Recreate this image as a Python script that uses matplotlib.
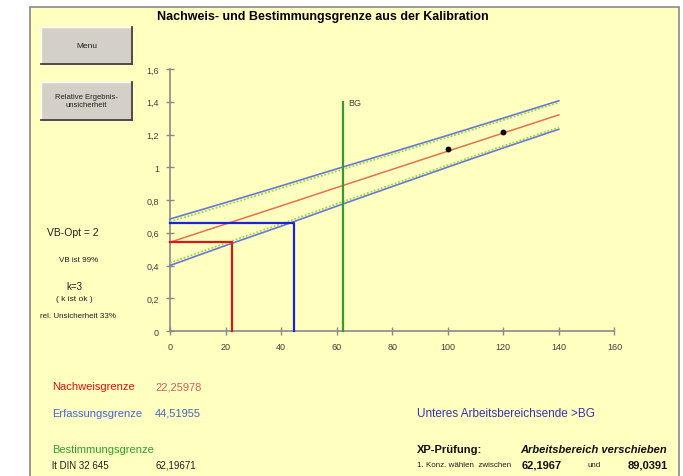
import matplotlib
matplotlib.use("Agg")
import matplotlib.pyplot as plt
from matplotlib.patches import Rectangle
from matplotlib.lines import Line2D
from matplotlib.ticker import FixedLocator

# ---------------- data ----------------
x_grid = [0, 20, 40, 60, 80, 100, 120, 140]
fit_line = [0.542, 0.653, 0.764, 0.876, 0.987, 1.098, 1.209, 1.320]
upper_vb = [0.684, 0.784, 0.886, 0.990, 1.092, 1.195, 1.300, 1.406]
lower_vb = [0.400, 0.522, 0.640, 0.762, 0.882, 1.001, 1.118, 1.232]
upper_in = [0.668, 0.769, 0.872, 0.976, 1.079, 1.183, 1.288, 1.395]
lower_in = [0.416, 0.537, 0.654, 0.776, 0.895, 1.013, 1.130, 1.243]
cal_x = [100, 120]
cal_y = [1.111, 1.213]

nachweisgrenze = 22.25978
erfassungsgrenze = 44.51955
bestimmungsgrenze = 62.19671
ng_level = 0.542
eg_level = 0.660
bg_top = 1.4

x_ticks = [0, 20, 40, 60, 80, 100, 120, 140, 160]
y_ticks = [0, 0.2, 0.4, 0.6, 0.8, 1.0, 1.2, 1.4, 1.6]
y_tick_labels = ["0", "0,2", "0,4", "0,6", "0,8", "1", "1,2", "1,4", "1,6"]

# ---------------- figure ----------------
W, H = 683, 477
fig = plt.figure(figsize=(W / 100, H / 100), dpi=100)
fig.patch.set_facecolor("white")

NARROW = ["Liberation Sans Narrow", "Liberation Sans", "DejaVu Sans"]
SANS = ["Liberation Sans", "DejaVu Sans"]
YELLOW = "#FFFFC0"


def fx(px):
    return px / W


def fy(py):
    return 1 - py / H


def ftext(px, py, s, **kw):
    kw.setdefault("family", NARROW)
    kw.setdefault("va", "center")
    kw.setdefault("ha", "left")
    fig.text(fx(px), fy(py), s, **kw)


# panel (behind everything)
fig.patches.append(Rectangle((fx(30), fy(490)), fx(679) - fx(30), fy(8) - fy(490),
                             transform=fig.transFigure, facecolor=YELLOW,
                             edgecolor="#8a8a8a", linewidth=1.2, zorder=-5))


def button(x0, y0, x1, y1, label, fs):
    fig.patches.append(Rectangle((fx(x0), fy(y1)), fx(x1) - fx(x0), fy(y0) - fy(y1),
                                 transform=fig.transFigure, facecolor="#D4D0C8",
                                 edgecolor="none", zorder=1))
    fig.lines.append(Line2D([fx(x0), fx(x1)], [fy(y0), fy(y0)], transform=fig.transFigure,
                            color="white", lw=1, zorder=2))
    fig.lines.append(Line2D([fx(x0), fx(x0)], [fy(y0), fy(y1)], transform=fig.transFigure,
                            color="white", lw=1, zorder=2))
    fig.lines.append(Line2D([fx(x0), fx(x1)], [fy(y1), fy(y1)], transform=fig.transFigure,
                            color="#404040", lw=1.3, zorder=2))
    fig.lines.append(Line2D([fx(x1), fx(x1)], [fy(y0), fy(y1)], transform=fig.transFigure,
                            color="#404040", lw=1.3, zorder=2))
    fig.text(fx((x0 + x1) / 2), fy((y0 + y1) / 2), label, ha="center", va="center",
             fontsize=fs, family=NARROW, color="#202020", linespacing=1.2, zorder=3)


button(41, 28, 132, 65, "Menu", 6)
button(41, 83, 132, 121, "Relative Ergebnis-\nunsicherheit", 5.5)

# title
fig.text(fx(323), fy(17), "Nachweis- und Bestimmungsgrenze aus der Kalibration",
         ha="center", va="center", fontsize=9, fontweight="bold", family=SANS, color="black")

# ---------------- axes ----------------
ax = fig.add_axes([fx(170), fy(332), fx(614.4) - fx(170), fy(70) - fy(332)])
ax.set_zorder(2)
ax.set_facecolor("none")
ax.set_xlim(0, 160)
ax.set_ylim(0, 1.6)
for side in ("top", "right"):
    ax.spines[side].set_visible(False)
for side in ("left", "bottom"):
    ax.spines[side].set_color("#8a8a8a")
    ax.spines[side].set_linewidth(1.2)
ax.xaxis.set_major_locator(FixedLocator(x_ticks))
ax.yaxis.set_major_locator(FixedLocator(y_ticks))
ax.set_yticklabels(y_tick_labels)
ax.tick_params(direction="inout", length=6, width=1, color="#8a8a8a",
               labelsize=6.5, labelcolor="#404040", pad=5)
for lab in ax.get_xticklabels() + ax.get_yticklabels():
    lab.set_family(NARROW)

# bands
ax.plot(x_grid, upper_vb, color="#6C74D8", lw=1.2, clip_on=False, zorder=3)
ax.plot(x_grid, lower_vb, color="#6C74D8", lw=1.2, clip_on=False, zorder=3)
ax.plot(x_grid, upper_in, color="#7EE03A", lw=1.2, ls=(0, (1, 1.2)), zorder=3)
ax.plot(x_grid, lower_in, color="#7EE03A", lw=1.2, ls=(0, (1, 1.2)), zorder=3)
ax.plot(x_grid, fit_line, color="#E8704E", lw=1.1, zorder=3)

# limits
ax.plot([0, nachweisgrenze, nachweisgrenze], [ng_level, ng_level, 0],
        color="#D81818", lw=1.6, zorder=4, clip_on=False)
ax.plot([0, erfassungsgrenze, erfassungsgrenze], [eg_level, eg_level, 0],
        color="#1A22E0", lw=1.6, zorder=4, clip_on=False)
ax.plot([bestimmungsgrenze, bestimmungsgrenze], [0, bg_top],
        color="#3A9A30", lw=1.6, zorder=4, clip_on=False)
ax.text(bestimmungsgrenze + 2, bg_top - 0.005, "BG", fontsize=6.5, family=NARROW,
        color="#404040", va="center", ha="left")

ax.plot(cal_x, cal_y, "o", color="black", ms=3.2, zorder=5)

# ---------------- left texts ----------------
ftext(73, 233, "VB-Opt = 2", fontsize=7.5, ha="center", color="#202020")
ftext(79, 261, "VB ist 99%", fontsize=5.8, ha="center", color="#202020")
ftext(74, 287, "k=3", fontsize=7, ha="center", color="#202020")
ftext(74, 300, "( k ist ok )", fontsize=6, ha="center", color="#202020")
ftext(78, 316, "rel. Unsicherheit 33%", fontsize=5.8, ha="center", color="#202020")

# ---------------- bottom texts ----------------
ftext(52, 387, "Nachweisgrenze", fontsize=8, color="#E01010")
ftext(155, 387, "22,25978", fontsize=8, color="#D06060")
ftext(52, 414, "Erfassungsgrenze", fontsize=8, color="#4466E0")
ftext(155, 414, "44,51955", fontsize=8, color="#4466C0")
ftext(52, 450, "Bestimmungsgrenze", fontsize=8, color="#30A030")
ftext(52, 466, "lt DIN 32 645", fontsize=7, color="#202020")
ftext(155, 466, "62,19671", fontsize=7, color="#202020")

ftext(417, 414, "Unteres Arbeitsbereichsende >BG", fontsize=8.5, color="#3434B8")
ftext(417, 450, "XP-Prüfung:", fontsize=8, fontweight="bold", color="#101010")
ftext(520, 450, "Arbeitsbereich verschieben", fontsize=8, fontweight="bold",
      style="italic", color="#101010")
ftext(417, 466, "1. Konz. wählen  zwischen", fontsize=5.8, color="#202020")
ftext(522, 466, "62,1967", fontsize=8, fontweight="bold", color="#101010")
ftext(587, 466, "und", fontsize=5.8, color="#202020")
ftext(628, 466, "89,0391", fontsize=8, fontweight="bold", color="#101010")

fig.savefig("out.png", dpi=100, facecolor=fig.get_facecolor())
